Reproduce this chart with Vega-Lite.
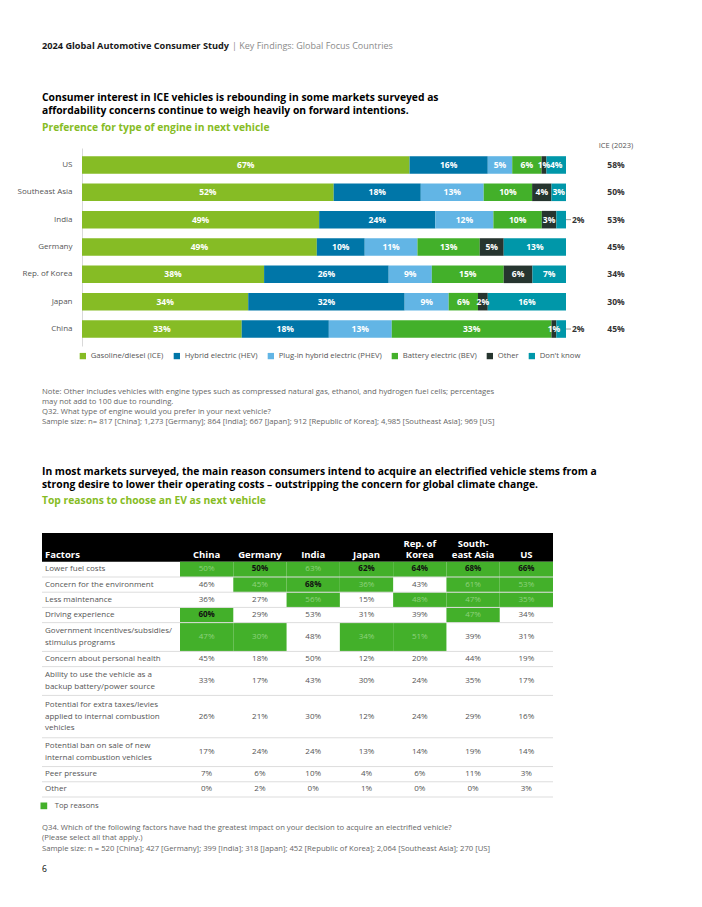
{
  "$schema": "https://vega.github.io/schema/vega-lite/v6.json",
  "background": "white",
  "padding": 0,
  "spacing": 0,
  "bounds": "flush",
  "resolve": {
    "scale": {"color": "independent", "x": "independent", "y": "independent"},
    "legend": {"color": "independent"}
  },
  "datasets": {
    "engine": [
      {"country": "US", "engine": "Gasoline/diesel (ICE)", "value": 67},
      {"country": "US", "engine": "Hybrid electric (HEV)", "value": 16},
      {"country": "US", "engine": "Plug-in hybrid electric (PHEV)", "value": 5},
      {"country": "US", "engine": "Battery electric (BEV)", "value": 6},
      {"country": "US", "engine": "Other", "value": 1},
      {"country": "US", "engine": "Don't know", "value": 4},
      {"country": "Southeast Asia", "engine": "Gasoline/diesel (ICE)", "value": 52},
      {"country": "Southeast Asia", "engine": "Hybrid electric (HEV)", "value": 18},
      {"country": "Southeast Asia", "engine": "Plug-in hybrid electric (PHEV)", "value": 13},
      {"country": "Southeast Asia", "engine": "Battery electric (BEV)", "value": 10},
      {"country": "Southeast Asia", "engine": "Other", "value": 4},
      {"country": "Southeast Asia", "engine": "Don't know", "value": 3},
      {"country": "India", "engine": "Gasoline/diesel (ICE)", "value": 49},
      {"country": "India", "engine": "Hybrid electric (HEV)", "value": 24},
      {"country": "India", "engine": "Plug-in hybrid electric (PHEV)", "value": 12},
      {"country": "India", "engine": "Battery electric (BEV)", "value": 10},
      {"country": "India", "engine": "Other", "value": 3},
      {"country": "India", "engine": "Don't know", "value": 2},
      {"country": "Germany", "engine": "Gasoline/diesel (ICE)", "value": 49},
      {"country": "Germany", "engine": "Hybrid electric (HEV)", "value": 10},
      {"country": "Germany", "engine": "Plug-in hybrid electric (PHEV)", "value": 11},
      {"country": "Germany", "engine": "Battery electric (BEV)", "value": 13},
      {"country": "Germany", "engine": "Other", "value": 5},
      {"country": "Germany", "engine": "Don't know", "value": 13},
      {"country": "Rep. of Korea", "engine": "Gasoline/diesel (ICE)", "value": 38},
      {"country": "Rep. of Korea", "engine": "Hybrid electric (HEV)", "value": 26},
      {"country": "Rep. of Korea", "engine": "Plug-in hybrid electric (PHEV)", "value": 9},
      {"country": "Rep. of Korea", "engine": "Battery electric (BEV)", "value": 15},
      {"country": "Rep. of Korea", "engine": "Other", "value": 6},
      {"country": "Rep. of Korea", "engine": "Don't know", "value": 7},
      {"country": "Japan", "engine": "Gasoline/diesel (ICE)", "value": 34},
      {"country": "Japan", "engine": "Hybrid electric (HEV)", "value": 32},
      {"country": "Japan", "engine": "Plug-in hybrid electric (PHEV)", "value": 9},
      {"country": "Japan", "engine": "Battery electric (BEV)", "value": 6},
      {"country": "Japan", "engine": "Other", "value": 2},
      {"country": "Japan", "engine": "Don't know", "value": 16},
      {"country": "China", "engine": "Gasoline/diesel (ICE)", "value": 33},
      {"country": "China", "engine": "Hybrid electric (HEV)", "value": 18},
      {"country": "China", "engine": "Plug-in hybrid electric (PHEV)", "value": 13},
      {"country": "China", "engine": "Battery electric (BEV)", "value": 33},
      {"country": "China", "engine": "Other", "value": 1},
      {"country": "China", "engine": "Don't know", "value": 2}
    ],
    "ice": [
      {"country": "US", "ice2023": 58},
      {"country": "Southeast Asia", "ice2023": 50},
      {"country": "India", "ice2023": 53},
      {"country": "Germany", "ice2023": 45},
      {"country": "Rep. of Korea", "ice2023": 34},
      {"country": "Japan", "ice2023": 30},
      {"country": "China", "ice2023": 45}
    ],
    "reasons": [
      {"factor": "Factors", "lines": 2, "China": "China", "Germany": "Germany", "India": "India", "Japan": "Japan", "Korea": "Rep. of\nKorea", "SEA": "South-\neast Asia", "US": "US", "top": [], "best": []},
      {"factor": "Lower fuel costs", "lines": 1, "China": 50, "Germany": 50, "India": 63, "Japan": 62, "Korea": 64, "SEA": 68, "US": 66, "top": ["China", "Germany", "India", "Japan", "Korea", "SEA", "US"], "best": ["Germany", "Japan", "Korea", "SEA", "US"]},
      {"factor": "Concern for the environment", "lines": 1, "China": 46, "Germany": 45, "India": 68, "Japan": 36, "Korea": 43, "SEA": 61, "US": 53, "top": ["Germany", "India", "Japan", "SEA", "US"], "best": ["India"]},
      {"factor": "Less maintenance", "lines": 1, "China": 36, "Germany": 27, "India": 56, "Japan": 15, "Korea": 48, "SEA": 47, "US": 35, "top": ["India", "Korea", "SEA", "US"], "best": []},
      {"factor": "Driving experience", "lines": 1, "China": 60, "Germany": 29, "India": 53, "Japan": 31, "Korea": 39, "SEA": 47, "US": 34, "top": ["China", "SEA"], "best": ["China"]},
      {"factor": "Government incentives/subsidies/\nstimulus programs", "lines": 2, "China": 47, "Germany": 30, "India": 48, "Japan": 34, "Korea": 51, "SEA": 39, "US": 31, "top": ["China", "Germany", "Japan", "Korea"], "best": []},
      {"factor": "Concern about personal health", "lines": 1, "China": 45, "Germany": 18, "India": 50, "Japan": 12, "Korea": 20, "SEA": 44, "US": 19, "top": [], "best": []},
      {"factor": "Ability to use the vehicle as a\nbackup battery/power source", "lines": 2, "China": 33, "Germany": 17, "India": 43, "Japan": 30, "Korea": 24, "SEA": 35, "US": 17, "top": [], "best": []},
      {"factor": "Potential for extra taxes/levies\napplied to internal combustion\nvehicles", "lines": 3, "China": 26, "Germany": 21, "India": 30, "Japan": 12, "Korea": 24, "SEA": 29, "US": 16, "top": [], "best": []},
      {"factor": "Potential ban on sale of new\ninternal combustion vehicles", "lines": 2, "China": 17, "Germany": 24, "India": 24, "Japan": 13, "Korea": 14, "SEA": 19, "US": 14, "top": [], "best": []},
      {"factor": "Peer pressure", "lines": 1, "China": 7, "Germany": 6, "India": 10, "Japan": 4, "Korea": 6, "SEA": 11, "US": 3, "top": [], "best": []},
      {"factor": "Other", "lines": 1, "China": 0, "Germany": 2, "India": 0, "Japan": 1, "Korea": 0, "SEA": 0, "US": 3, "top": [], "best": []}
    ]
  },
  "vconcat": [
    {
      "width": 702,
      "height": 148,
      "data": {"values": [{}]},
      "layer": [
        {"mark": {"type": "text", "text": "2024 Global Automotive Consumer Study", "align": "left", "baseline": "alphabetic", "fontWeight": "bold", "fontSize": 9.2, "color": "#1a1a1a"}, "encoding": {"x": {"value": 42}, "y": {"value": 49}}},
        {"mark": {"type": "text", "text": "| Key Findings: Global Focus Countries", "align": "left", "baseline": "alphabetic", "fontSize": 9, "color": "#8a8a8a"}, "encoding": {"x": {"value": 232}, "y": {"value": 49}}},
        {"mark": {"type": "text", "text": ["Consumer interest in ICE vehicles is rebounding in some markets surveyed as", "affordability concerns continue to weigh heavily on forward intentions."], "align": "left", "baseline": "alphabetic", "fontWeight": "bold", "fontSize": 10.3, "lineHeight": 13, "color": "#000000"}, "encoding": {"x": {"value": 42}, "y": {"value": 101}}},
        {"mark": {"type": "text", "text": "Preference for type of engine in next vehicle", "align": "left", "baseline": "alphabetic", "fontWeight": "bold", "fontSize": 10.3, "color": "#86bc25"}, "encoding": {"x": {"value": 42}, "y": {"value": 131}}},
        {"mark": {"type": "text", "text": "ICE (2023)", "align": "center", "baseline": "alphabetic", "fontSize": 7.5, "color": "#555555"}, "encoding": {"x": {"value": 616}, "y": {"value": 148}}}
      ]
    },
    {
      "width": 702,
      "height": 198,
      "layer": [
        {
          "data": {"name": "engine"},
          "transform": [
            {"calculate": "indexof(['Gasoline/diesel (ICE)', 'Hybrid electric (HEV)', 'Plug-in hybrid electric (PHEV)', 'Battery electric (BEV)', 'Other', \"Don't know\"], datum.engine)", "as": "k"},
            {"stack": "value", "groupby": ["country"], "sort": [{"field": "k", "order": "ascending"}], "offset": "normalize", "as": ["v0", "v1"]},
            {"calculate": "(datum.v0 + datum.v1) / 2", "as": "mid"},
            {"calculate": "datum.value + '%'", "as": "label"}
          ],
          "layer": [
            {
              "mark": {"type": "bar"},
              "encoding": {
                "y": {"field": "country", "type": "nominal", "sort": ["US", "Southeast Asia", "India", "Germany", "Rep. of Korea", "Japan", "China"], "scale": {"paddingInner": 0.358, "paddingOuter": 0.3}, "axis": {"title": null, "offset": -82, "labelPadding": 10, "ticks": false, "domainColor": "#d9d9d9", "labelColor": "#555555", "labelFontSize": 8, "labelFont": "Open Sans"}},
                "x": {"field": "v0", "type": "quantitative", "scale": {"domain": [0, 1], "range": [82, 566], "nice": false, "zero": false}, "axis": null},
                "x2": {"field": "v1"},
                "color": {
                  "field": "engine", "type": "nominal",
                  "scale": {"domain": ["Gasoline/diesel (ICE)", "Hybrid electric (HEV)", "Plug-in hybrid electric (PHEV)", "Battery electric (BEV)", "Other", "Don't know"], "range": ["#86bc25", "#0076a8", "#62b5e5", "#43b02a", "#26352f", "#0097a9"]},
                  "legend": {"orient": "none", "legendX": 79, "legendY": 204, "direction": "horizontal", "title": null, "symbolType": "square", "symbolSize": 40, "symbolStrokeWidth": 0, "labelFontSize": 7.7, "labelColor": "#555555", "labelFont": "Open Sans", "columnPadding": 9, "labelOffset": 4}
                }
              }
            },
            {
              "transform": [{"filter": "!(datum.engine == \"Don't know\" && (datum.country == 'India' || datum.country == 'China'))"}],
              "mark": {"type": "text", "color": "white", "fontWeight": "bold", "fontSize": 8.5, "baseline": "middle", "align": "center"},
              "encoding": {
                "y": {"field": "country", "type": "nominal", "sort": ["US", "Southeast Asia", "India", "Germany", "Rep. of Korea", "Japan", "China"]},
                "x": {"field": "mid", "type": "quantitative"},
                "text": {"field": "label"}
              }
            },
            {
              "transform": [{"filter": "datum.engine == \"Don't know\" && (datum.country == 'India' || datum.country == 'China')"}],
              "mark": {"type": "rule", "color": "#999999", "strokeWidth": 1, "x2Offset": 5},
              "encoding": {
                "y": {"field": "country", "type": "nominal", "sort": ["US", "Southeast Asia", "India", "Germany", "Rep. of Korea", "Japan", "China"]},
                "x": {"field": "v1", "type": "quantitative"},
                "x2": {"field": "v1"}
              }
            },
            {
              "transform": [{"filter": "datum.engine == \"Don't know\" && (datum.country == 'India' || datum.country == 'China')"}],
              "mark": {"type": "text", "color": "#333333", "fontWeight": "bold", "fontSize": 8.5, "baseline": "middle", "align": "left", "dx": 6},
              "encoding": {
                "y": {"field": "country", "type": "nominal", "sort": ["US", "Southeast Asia", "India", "Germany", "Rep. of Korea", "Japan", "China"]},
                "x": {"field": "v1", "type": "quantitative"},
                "text": {"field": "label"}
              }
            }
          ]
        },
        {
          "data": {"name": "ice"},
          "transform": [{"calculate": "datum.ice2023 + '%'", "as": "label"}],
          "mark": {"type": "text", "color": "#333333", "fontWeight": "bold", "fontSize": 8.5, "baseline": "middle", "align": "center"},
          "encoding": {
            "y": {"field": "country", "type": "nominal", "sort": ["US", "Southeast Asia", "India", "Germany", "Rep. of Korea", "Japan", "China"]},
            "x": {"value": 616},
            "text": {"field": "label"}
          }
        }
      ]
    },
    {
      "width": 702,
      "height": 187,
      "data": {"values": [{}]},
      "layer": [
        {"mark": {"type": "text", "text": ["Note: Other includes vehicles with engine types such as compressed natural gas, ethanol, and hydrogen fuel cells; percentages", "may not add to 100 due to rounding.", "Q32. What type of engine would you prefer in your next vehicle?", "Sample size: n= 817 [China]; 1,273 [Germany]; 864 [India]; 667 [Japan]; 912 [Republic of Korea]; 4,985 [Southeast Asia]; 969 [US]"], "align": "left", "baseline": "alphabetic", "fontSize": 7.7, "lineHeight": 10.3, "color": "#666666"}, "encoding": {"x": {"value": 42}, "y": {"value": 47.5}}},
        {"mark": {"type": "text", "text": ["In most markets surveyed, the main reason consumers intend to acquire an electrified vehicle stems from a", "strong desire to lower their operating costs \u2013 outstripping the concern for global climate change."], "align": "left", "baseline": "alphabetic", "fontWeight": "bold", "fontSize": 10.3, "lineHeight": 13, "color": "#000000"}, "encoding": {"x": {"value": 42}, "y": {"value": 129}}},
        {"mark": {"type": "text", "text": "Top reasons to choose an EV as next vehicle", "align": "left", "baseline": "alphabetic", "fontWeight": "bold", "fontSize": 10.3, "color": "#86bc25"}, "encoding": {"x": {"value": 42}, "y": {"value": 158}}}
      ]
    },
    {
      "width": 702,
      "height": 264,
      "data": {"name": "reasons"},
      "transform": [
        {"calculate": "datum.lines + 0.12", "as": "h"},
        {"window": [{"op": "sum", "field": "h", "as": "end"}], "frame": [null, 0]},
        {"calculate": "datum.end - datum.h", "as": "start"},
        {"calculate": "datum.start + datum.h / 2", "as": "mid"}
      ],
      "layer": [
        {
          "transform": [{"filter": "datum.factor === 'Factors'"}],
          "mark": {"type": "rect", "color": "#000000"},
          "encoding": {
            "x": {"value": 42},
            "x2": {"value": 553},
            "y": {"field": "start", "type": "quantitative", "scale": {"domain": [0, 19.44], "range": [0, 264], "nice": false, "zero": false}, "axis": null},
            "y2": {"field": "end"}
          }
        },
        {
          "transform": [
            {"fold": ["China", "Germany", "India", "Japan", "Korea", "SEA", "US"], "as": ["country", "val"]},
            {"filter": "datum.factor !== 'Factors' && indexof(datum.top, datum.country) >= 0"}
          ],
          "mark": {"type": "rect"},
          "encoding": {
            "x": {"field": "country", "type": "nominal", "sort": ["China", "Germany", "India", "Japan", "Korea", "SEA", "US"], "scale": {"range": [180, 553], "paddingInner": 0, "paddingOuter": 0}, "axis": null},
            "y": {"field": "start", "type": "quantitative"},
            "y2": {"field": "end"},
            "color": {"datum": "Top reasons", "scale": {"range": ["#43b02a"]}, "legend": {"orient": "none", "legendX": 40, "legendY": 269, "title": null, "symbolType": "square", "symbolSize": 45, "symbolStrokeWidth": 0, "labelFontSize": 7.7, "labelColor": "#555555", "labelFont": "Open Sans", "labelOffset": 7}}
          }
        },
        {
          "transform": [{"filter": "datum.factor !== 'Factors'"}],
          "mark": {"type": "rule", "color": "#dddddd", "strokeWidth": 1},
          "encoding": {
            "x": {"value": 42},
            "x2": {"value": 553},
            "y": {"field": "end", "type": "quantitative"}
          }
        },
        {
          "transform": [
            {"filter": "datum.factor !== 'Factors'"},
            {"calculate": "datum.mid - (datum.lines - 1) * 0.4235", "as": "ty"}
          ],
          "mark": {"type": "text", "align": "left", "baseline": "middle", "lineBreak": "\n", "lineHeight": 11.5, "fontSize": 8, "color": "#555555"},
          "encoding": {
            "x": {"value": 45},
            "y": {"field": "ty", "type": "quantitative"},
            "text": {"field": "factor"}
          }
        },
        {
          "transform": [{"filter": "datum.factor === 'Factors'"}],
          "mark": {"type": "text", "align": "left", "baseline": "alphabetic", "fontSize": 9.5, "fontWeight": "bold", "color": "white", "dy": -3.5},
          "encoding": {
            "x": {"value": 45},
            "y": {"field": "end", "type": "quantitative"},
            "text": {"field": "factor"}
          }
        },
        {
          "transform": [
            {"fold": ["China", "Germany", "India", "Japan", "Korea", "SEA", "US"], "as": ["country", "val"]},
            {"filter": "datum.factor === 'Factors'"},
            {"calculate": "indexof(datum.val, '\\n') >= 0 ? split(datum.val, '\\n')[1] : datum.val", "as": "bottomLine"}
          ],
          "mark": {"type": "text", "align": "center", "baseline": "alphabetic", "fontSize": 9.5, "fontWeight": "bold", "color": "white", "dy": -3.5},
          "encoding": {
            "x": {"field": "country", "type": "nominal", "sort": ["China", "Germany", "India", "Japan", "Korea", "SEA", "US"], "bandPosition": 0.5},
            "y": {"field": "end", "type": "quantitative"},
            "text": {"field": "bottomLine"}
          }
        },
        {
          "transform": [
            {"fold": ["China", "Germany", "India", "Japan", "Korea", "SEA", "US"], "as": ["country", "val"]},
            {"filter": "datum.factor === 'Factors' && indexof(datum.val, '\\n') >= 0"},
            {"calculate": "split(datum.val, '\\n')[0]", "as": "topLine"}
          ],
          "mark": {"type": "text", "align": "center", "baseline": "alphabetic", "fontSize": 9.5, "fontWeight": "bold", "color": "white", "dy": -15},
          "encoding": {
            "x": {"field": "country", "type": "nominal", "sort": ["China", "Germany", "India", "Japan", "Korea", "SEA", "US"], "bandPosition": 0.5},
            "y": {"field": "end", "type": "quantitative"},
            "text": {"field": "topLine"}
          }
        },
        {
          "transform": [
            {"fold": ["China", "Germany", "India", "Japan", "Korea", "SEA", "US"], "as": ["country", "val"]},
            {"filter": "datum.factor !== 'Factors' && indexof(datum.best, datum.country) >= 0"},
            {"calculate": "datum.val + '%'", "as": "label"}
          ],
          "mark": {"type": "text", "align": "center", "baseline": "middle", "fontSize": 8, "fontWeight": "bold", "color": "#111111"},
          "encoding": {
            "x": {"field": "country", "type": "nominal", "sort": ["China", "Germany", "India", "Japan", "Korea", "SEA", "US"], "bandPosition": 0.5},
            "y": {"field": "mid", "type": "quantitative"},
            "text": {"field": "label"}
          }
        },
        {
          "transform": [
            {"fold": ["China", "Germany", "India", "Japan", "Korea", "SEA", "US"], "as": ["country", "val"]},
            {"filter": "datum.factor !== 'Factors' && indexof(datum.best, datum.country) < 0"},
            {"calculate": "datum.val + '%'", "as": "label"},
            {"calculate": "indexof(datum.top, datum.country) >= 0", "as": "isTop"}
          ],
          "mark": {"type": "text", "align": "center", "baseline": "middle", "fontSize": 8},
          "encoding": {
            "x": {"field": "country", "type": "nominal", "sort": ["China", "Germany", "India", "Japan", "Korea", "SEA", "US"], "bandPosition": 0.5},
            "y": {"field": "mid", "type": "quantitative"},
            "text": {"field": "label"},
            "color": {"condition": {"test": "datum.isTop", "value": "#8fd27f"}, "value": "#555555"}
          }
        }
      ]
    },
    {
      "width": 702,
      "height": 110,
      "data": {"values": [{}]},
      "layer": [
        {"mark": {"type": "text", "text": ["Q34. Which of the following factors have had the greatest impact on your decision to acquire an electrified vehicle?", "(Please select all that apply.)", "Sample size: n = 520 [China]; 427 [Germany]; 399 [India]; 318 [Japan]; 452 [Republic of Korea]; 2,064 [Southeast Asia]; 270 [US]"], "align": "left", "baseline": "alphabetic", "fontSize": 7.7, "lineHeight": 10.5, "color": "#666666"}, "encoding": {"x": {"value": 42}, "y": {"value": 32.5}}},
        {"mark": {"type": "text", "text": "6", "align": "left", "baseline": "alphabetic", "fontSize": 8.5, "color": "#000000"}, "encoding": {"x": {"value": 42}, "y": {"value": 75}}}
      ]
    }
  ],
  "config": {
    "view": {"stroke": null},
    "font": "Open Sans",
    "text": {"font": "Open Sans"}
  }
}
